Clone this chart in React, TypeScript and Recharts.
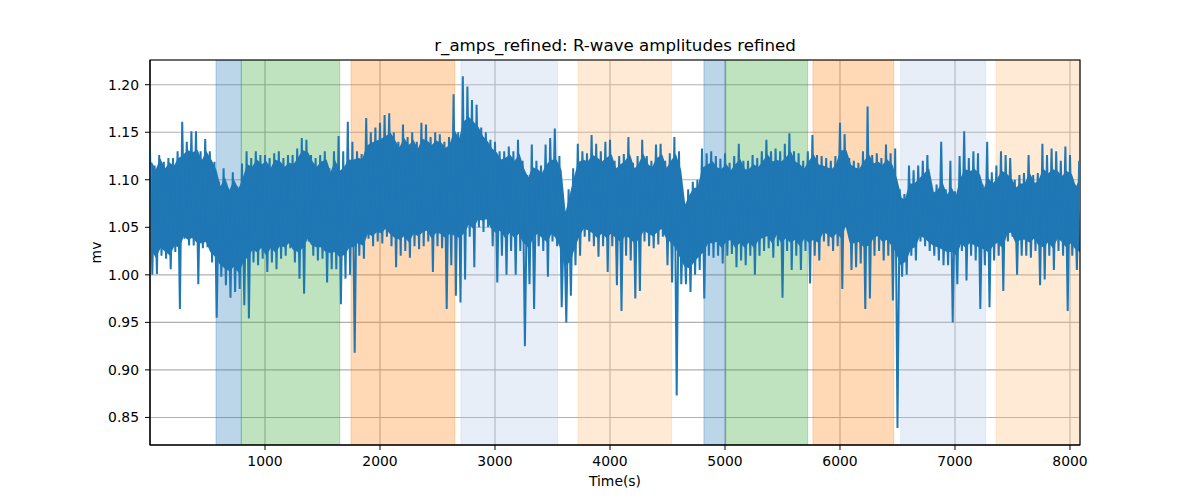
import React from 'react';
import { ComposedChart, Line, Area, XAxis, YAxis, CartesianGrid, ReferenceArea } from 'recharts';

// one bin every 40 s: the peak and trough reached by the trace
const binSeconds = 40;

const highs = [
  1.131, 1.115, 1.126, 1.119, 1.123, 1.123, 1.13, 1.161, 1.14, 1.151,
  1.151, 1.13, 1.143, 1.13, 1.119, 1.098, 1.112, 1.091, 1.108, 1.093,
  1.117, 1.13, 1.123, 1.13, 1.126, 1.126, 1.123, 1.128, 1.13, 1.123,
  1.126, 1.126, 1.133, 1.144, 1.142, 1.126, 1.123, 1.126, 1.13, 1.112,
  1.13, 1.146, 1.13, 1.161, 1.14, 1.13, 1.127, 1.165, 1.15, 1.155,
  1.16, 1.168, 1.17, 1.15, 1.14, 1.158, 1.145, 1.15, 1.14, 1.16,
  1.158, 1.145, 1.15, 1.148, 1.14, 1.145, 1.19, 1.15, 1.209, 1.198,
  1.184, 1.179, 1.155, 1.15, 1.142, 1.14, 1.13, 1.13, 1.135, 1.13,
  1.142, 1.12, 1.105, 1.137, 1.12, 1.115, 1.137, 1.144, 1.154, 1.125,
  1.065, 1.09, 1.112, 1.138, 1.13, 1.128, 1.147, 1.138, 1.13, 1.14,
  1.142, 1.12, 1.125, 1.127, 1.145, 1.118, 1.125, 1.142, 1.125, 1.12,
  1.137, 1.138, 1.12, 1.128, 1.145, 1.13, 1.075, 1.09, 1.098, 1.1,
  1.133, 1.128, 1.13, 1.125, 1.122, 1.128, 1.118, 1.125, 1.138, 1.12,
  1.12, 1.126, 1.123, 1.13, 1.142, 1.13, 1.133, 1.13, 1.138, 1.149,
  1.13, 1.128, 1.12, 1.13, 1.147, 1.126, 1.125, 1.123, 1.12, 1.125,
  1.16, 1.148, 1.123, 1.12, 1.118, 1.13, 1.177, 1.126, 1.128, 1.123,
  1.137, 1.128, 1.133, 1.09, 1.085, 1.115, 1.11, 1.115, 1.12, 1.126,
  1.09, 1.095, 1.14, 1.09, 1.12, 1.088, 1.125, 1.151, 1.123, 1.13,
  1.128, 1.095, 1.14, 1.108, 1.115, 1.13, 1.126, 1.123, 1.1, 1.105,
  1.107, 1.126, 1.105, 1.107, 1.138, 1.126, 1.133, 1.13, 1.12, 1.135,
  1.126, 1.095, 1.12,
];

const lows = [
  1.0, 1.001, 1.02, 1.017, 1.006, 1.024, 0.964, 1.038, 1.031, 1.031,
  0.99, 1.028, 1.029, 1.013, 0.955, 0.998, 0.989, 0.976, 0.982, 0.985,
  0.968, 0.954, 1.013, 1.01, 1.017, 1.003, 1.013, 1.006, 1.017, 1.02,
  1.028, 1.013, 0.996, 0.98, 1.035, 1.02, 1.015, 1.017, 0.992, 1.006,
  1.006, 0.969, 0.996, 1.0, 0.918, 1.02, 1.017, 1.038, 1.03, 1.035,
  1.033, 1.04, 1.03, 1.008, 1.02, 1.025, 1.018, 1.03, 1.027, 1.03,
  1.035, 1.003, 1.03, 1.028, 0.964, 1.01, 0.978, 0.971, 0.995, 1.04,
  1.008, 1.05, 1.045, 1.05, 1.03, 0.992, 1.02, 1.0, 1.025, 1.0,
  1.025, 0.925, 0.99, 0.964, 1.03, 1.025, 0.998, 1.035, 1.03, 0.966,
  0.95, 0.978, 1.01, 1.02, 1.04, 1.035, 1.03, 1.019, 1.03, 1.003,
  1.03, 0.989, 0.962, 1.02, 1.015, 0.975, 0.983, 1.035, 1.03, 1.028,
  1.032, 1.04, 1.01, 0.992, 0.873, 0.99, 0.99, 0.982, 1.0, 1.005,
  0.975, 1.02, 1.018, 1.02, 1.012, 1.02, 1.022, 1.008, 1.015, 1.01,
  1.02, 1.0, 1.02, 1.025, 1.028, 1.018, 1.03, 0.976, 1.025, 1.005,
  1.02, 1.005, 1.025, 0.991, 1.02, 1.015, 1.035, 1.03, 1.025, 1.03,
  0.985, 1.05, 1.005, 1.008, 1.012, 0.964, 0.975, 1.02, 1.025, 1.015,
  1.02, 0.973, 0.839, 0.998, 1.0, 1.02, 1.015, 1.035, 1.03, 1.025,
  1.02, 1.015, 1.01, 1.01, 0.95, 0.99, 1.025, 0.994, 1.02, 1.015,
  0.964, 1.01, 0.966, 1.015, 1.02, 0.983, 1.035, 1.04, 1.0, 1.02,
  1.02, 1.018, 1.025, 0.989, 0.995, 1.02, 1.005, 1.025, 1.02, 0.962,
  1.02, 1.005, 0.992,
];

// the solid body of the trace in the same bins (where the beats pile up)
const bodyHigh = [
  1.118, 1.108, 1.12, 1.11, 1.117, 1.113, 1.122, 1.125, 1.13, 1.128,
  1.13, 1.118, 1.128, 1.12, 1.11, 1.09, 1.1, 1.086, 1.098, 1.088,
  1.1, 1.115, 1.112, 1.12, 1.115, 1.118, 1.11, 1.12, 1.118, 1.112,
  1.117, 1.115, 1.122, 1.13, 1.128, 1.118, 1.112, 1.118, 1.12, 1.105,
  1.118, 1.108, 1.112, 1.12, 1.12, 1.122, 1.12, 1.135, 1.138, 1.14,
  1.142, 1.145, 1.148, 1.14, 1.132, 1.142, 1.135, 1.14, 1.13, 1.142,
  1.14, 1.135, 1.14, 1.138, 1.132, 1.136, 1.15, 1.14, 1.16, 1.165,
  1.16, 1.155, 1.145, 1.14, 1.132, 1.128, 1.12, 1.122, 1.125, 1.118,
  1.125, 1.11, 1.1, 1.112, 1.11, 1.105, 1.115, 1.12, 1.12, 1.11,
  1.06, 1.08, 1.1, 1.118, 1.12, 1.118, 1.125, 1.122, 1.118, 1.122,
  1.125, 1.11, 1.115, 1.118, 1.125, 1.11, 1.115, 1.125, 1.115, 1.112,
  1.122, 1.125, 1.11, 1.118, 1.125, 1.11, 1.07, 1.082, 1.09, 1.092,
  1.112, 1.115, 1.118, 1.112, 1.11, 1.115, 1.108, 1.115, 1.12, 1.11,
  1.11, 1.115, 1.112, 1.118, 1.125, 1.118, 1.12, 1.118, 1.122, 1.128,
  1.118, 1.115, 1.11, 1.118, 1.125, 1.115, 1.114, 1.112, 1.11, 1.115,
  1.13, 1.13, 1.115, 1.112, 1.11, 1.118, 1.125, 1.116, 1.118, 1.114,
  1.12, 1.115, 1.1, 1.08, 1.078, 1.095, 1.095, 1.1, 1.105, 1.11,
  1.085, 1.088, 1.095, 1.082, 1.09, 1.08, 1.1, 1.11, 1.108, 1.11,
  1.105, 1.088, 1.1, 1.095, 1.1, 1.108, 1.105, 1.1, 1.09, 1.095,
  1.095, 1.105, 1.095, 1.098, 1.11, 1.105, 1.11, 1.108, 1.102, 1.108,
  1.105, 1.09, 1.1,
];

const bodyLow = [
  1.028, 1.02, 1.03, 1.026, 1.022, 1.032, 1.03, 1.042, 1.038, 1.04,
  1.035, 1.034, 1.036, 1.025, 1.02, 1.012, 1.008, 1.005, 1.01, 1.004,
  1.015, 1.02, 1.028, 1.025, 1.03, 1.022, 1.03, 1.025, 1.032, 1.03,
  1.035, 1.027, 1.025, 1.03, 1.04, 1.032, 1.03, 1.03, 1.025, 1.024,
  1.025, 1.02, 1.022, 1.03, 1.03, 1.035, 1.032, 1.045, 1.042, 1.046,
  1.045, 1.05, 1.044, 1.04, 1.038, 1.042, 1.036, 1.045, 1.042, 1.046,
  1.048, 1.04, 1.046, 1.044, 1.04, 1.045, 1.042, 1.04, 1.045, 1.055,
  1.05, 1.06, 1.058, 1.06, 1.05, 1.045, 1.048, 1.04, 1.046, 1.04,
  1.045, 1.035, 1.03, 1.04, 1.045, 1.04, 1.036, 1.045, 1.04, 1.03,
  1.01, 1.015, 1.03, 1.042, 1.05, 1.048, 1.045, 1.04, 1.045, 1.04,
  1.045, 1.04, 1.036, 1.042, 1.04, 1.035, 1.038, 1.048, 1.045, 1.042,
  1.046, 1.05, 1.04, 1.035, 1.03, 1.02, 1.01, 1.008, 1.015, 1.02,
  1.025, 1.035, 1.034, 1.036, 1.03, 1.036, 1.038, 1.03, 1.035, 1.03,
  1.036, 1.03, 1.038, 1.04, 1.042, 1.035, 1.044, 1.035, 1.04, 1.035,
  1.038, 1.032, 1.04, 1.035, 1.038, 1.035, 1.046, 1.044, 1.04, 1.045,
  1.04, 1.055, 1.035, 1.034, 1.036, 1.03, 1.032, 1.04, 1.042, 1.036,
  1.038, 1.032, 1.025, 1.012, 1.015, 1.028, 1.03, 1.042, 1.04, 1.036,
  1.032, 1.03, 1.028, 1.025, 1.025, 1.022, 1.035, 1.03, 1.035, 1.032,
  1.03, 1.028, 1.025, 1.032, 1.035, 1.03, 1.044, 1.046, 1.035, 1.038,
  1.038, 1.035, 1.04, 1.032, 1.03, 1.036, 1.03, 1.04, 1.036, 1.03,
  1.035, 1.028, 1.025,
];

// shaded stages (seconds)
const bands = [
  { from: 574, to: 794, color: '#1f77b4' },
  { from: 794, to: 1650, color: '#2ca02c' },
  { from: 1748, to: 2650, color: '#ff7f0e' },
  { from: 2704, to: 3545, color: '#aec7e8' },
  { from: 3722, to: 4536, color: '#ffbb78' },
  { from: 4817, to: 5006, color: '#1f77b4' },
  { from: 5006, to: 5719, color: '#2ca02c' },
  { from: 5765, to: 6467, color: '#ff7f0e' },
  { from: 6528, to: 7267, color: '#aec7e8' },
  { from: 7357, to: 8087, color: '#ffbb78' },
];

const xTicks = [1000, 2000, 3000, 4000, 5000, 6000, 7000, 8000];
const yTicks = [0.85, 0.9, 0.95, 1.0, 1.05, 1.1, 1.15, 1.2];
const xMax = 8087;
const yMin = 0.821;
const yMax = 1.226;

const data = highs.flatMap((h, i) => [
  { t: i * binSeconds, v: h },
  { t: i * binSeconds + binSeconds / 2, v: lows[i] },
]);

const bodyData = bodyHigh.map((h, i) => ({
  t: i * binSeconds + binSeconds / 4,
  body: [bodyLow[i], h],
}));

const tickStyle = { fontSize: 13.9, fill: '#000' };

export default function App() {
  return (
    <div
      style={{
        position: 'absolute',
        left: 0,
        top: 0,
        width: 1200,
        height: 500,
        background: '#fff',
        fontFamily: '"DejaVu Sans", sans-serif',
      }}
    >
      <ComposedChart
        width={1200}
        height={500}
        data={data}
        margin={{ top: 60, right: 120, bottom: 25, left: 90 }}
      >
        <CartesianGrid stroke="#b0b0b0" strokeWidth={1.1} />
        {bands.map((b, i) => (
          <ReferenceArea
            key={i}
            x1={b.from}
            x2={b.to}
            fill={b.color}
            fillOpacity={0.3}
            stroke={b.color}
            strokeOpacity={0.3}
            ifOverflow="hidden"
          />
        ))}
        <XAxis
          dataKey="t"
          type="number"
          domain={[0, xMax]}
          ticks={xTicks}
          allowDataOverflow
          height={30}
          tick={tickStyle}
          tickSize={5}
          tickMargin={6}
          stroke="#000"
          tickLine={{ stroke: '#000' }}
        />
        <YAxis
          type="number"
          domain={[yMin, yMax]}
          ticks={yTicks}
          allowDataOverflow
          width={60}
          tick={tickStyle}
          tickSize={5}
          tickMargin={6}
          stroke="#000"
          tickLine={{ stroke: '#000' }}
          tickFormatter={(v: number) => v.toFixed(2)}
        />
        <Area
          data={bodyData}
          type="linear"
          dataKey="body"
          fill="#1f77b4"
          fillOpacity={1}
          stroke="#1f77b4"
          strokeWidth={2}
          isAnimationActive={false}
        />
        <Line
          type="linear"
          dataKey="v"
          stroke="#1f77b4"
          strokeWidth={2}
          dot={false}
          isAnimationActive={false}
        />
        <ReferenceArea
          x1={0}
          x2={xMax}
          y1={yMin}
          y2={yMax}
          fill="none"
          stroke="#000"
          strokeWidth={1.1}
        />
      </ComposedChart>
      <svg
        width={1200}
        height={500}
        style={{ position: 'absolute', left: 0, top: 0, pointerEvents: 'none' }}
      >
        <text x={615} y={51} textAnchor="middle" fontSize={16.67} fill="#000">
          r_amps_refined: R-wave amplitudes refined
        </text>
        <text x={615} y={486} textAnchor="middle" fontSize={13.9} fill="#000">
          Time(s)
        </text>
        <text
          x={101}
          y={252.5}
          textAnchor="middle"
          fontSize={13.9}
          fill="#000"
          transform="rotate(-90 101 252.5)"
        >
          mv
        </text>
      </svg>
    </div>
  );
}
